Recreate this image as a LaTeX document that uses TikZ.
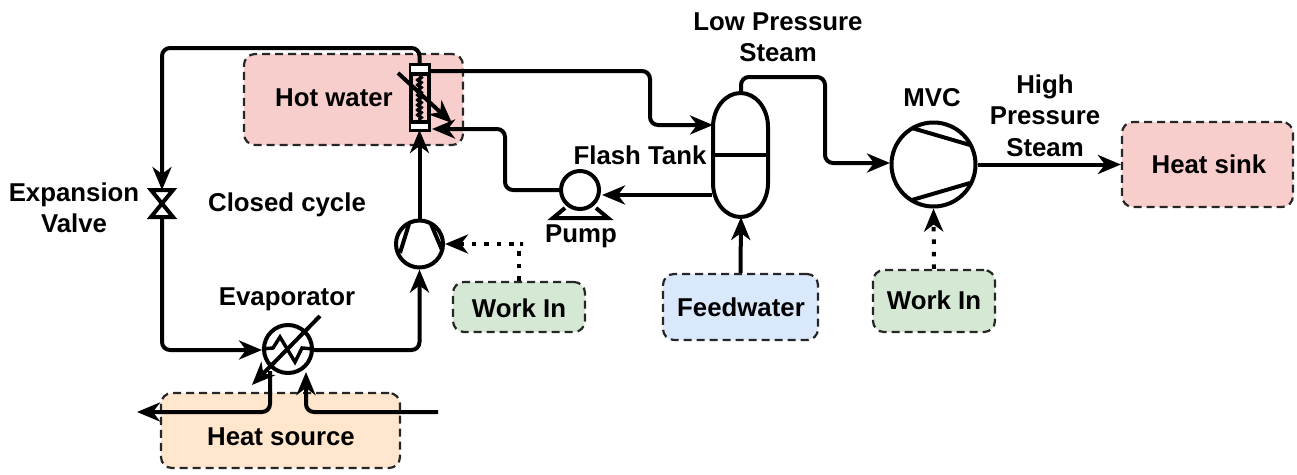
\documentclass[tikz,border=0pt]{standalone}
\usepackage{fontspec}
\setmainfont{Liberation Sans}
\usetikzlibrary{arrows.meta,decorations.pathmorphing}
\definecolor{hotred}{HTML}{F8CECC}
\definecolor{srcorange}{HTML}{FFE6CC}
\definecolor{workgreen}{HTML}{D5E8D4}
\definecolor{feedblue}{HTML}{DAE8FC}
\tikzset{
  x=1pt,y=-1pt,
  >={Stealth[length=23pt,width=19pt,inset=7pt]},
  flow/.style={line width=4pt,rounded corners=8pt,->},
  plainline/.style={line width=4pt,rounded corners=8pt},
  workflow/.style={line width=4pt,->,dash pattern=on 4.5pt off 8pt},
  area/.style={draw=black!85,line width=2.2pt,dash pattern=on 8pt off 5pt,rounded corners=11pt,inner sep=0pt},
  lbl/.style={font=\bfseries\fontsize{25.8}{31.5}\selectfont,align=center,inner sep=0pt},
  unit/.style={circle,draw,line width=4pt,fill=white,outer sep=2pt,inner sep=0pt},
  sym/.style={line width=4pt},
}
\begin{document}
\begin{tikzpicture}
\useasboundingbox (0,0) rectangle (1297,474);
% coloured areas
\node[area,fill=hotred,minimum width=219pt,minimum height=91pt] (hot) at (353.5,99.5) {};
\node[area,fill=srcorange,minimum width=239pt,minimum height=75pt] (source) at (280.5,430.5) {};
\node[area,fill=workgreen,minimum width=132pt,minimum height=50pt] (workA) at (519,307) {};
\node[area,fill=feedblue,minimum width=155pt,minimum height=66pt] (feed) at (740.5,307) {};
\node[area,fill=workgreen,minimum width=122pt,minimum height=62pt] (workB) at (934,301) {};
\node[area,fill=hotred,minimum width=171pt,minimum height=85pt] (sink) at (1207.5,164.5) {};
% equipment
\node[draw,line width=4pt,minimum width=18pt,minimum height=65pt,inner sep=0pt,outer sep=0pt] (hx) at (419.5,97.5) {};
\node[unit,minimum size=48pt] (evap) at (288,349) {};
\node[unit,minimum size=47pt] (comp) at (419.5,244) {};
\node[unit,minimum size=38pt] (pump) at (580,190) {};
\node[unit,minimum size=84pt] (mvc) at (933.5,164.5) {};
\node[minimum width=22pt,minimum height=27pt,inner sep=0pt,outer sep=0pt] (valve) at (162,203.5) {};
\node[minimum width=55pt,minimum height=124pt,inner sep=0pt,outer sep=0pt] (tank) at (741,155) {};
% named connector points
\coordinate (topbend) at (162,48);
\coordinate (lowbend) at (162,350);
\coordinate (evapin) at (262,350);
\coordinate (evapout) at (314,350);
\coordinate (hxout) at (430,71);
\coordinate (hxin) at (432,129);
\coordinate (tankin) at (713,125);
\coordinate (hxbend) at (650,71);
\coordinate (pumpbend) at (505,190);
\coordinate (tankout) at (712,195);
\coordinate (pumpin) at (602,195);
\coordinate (steambend) at (825,77);
\coordinate (mvcin) at (890,163);
\coordinate (workAbend) at (523,244);
\coordinate (srcin) at (438,412);
\coordinate (srcout) at (137,412);
\coordinate (evapleg) at (270,371);
\coordinate (evapfoot) at (306,372);
% connectors
\draw[flow] (hx.north) |- (topbend) -- (valve.north);
\draw[flow] (valve.south) -- (lowbend) -- (evapin);
\draw[flow] (evapout) -| (comp.south);
\draw[flow] (comp.north) -- (hx.south);
\draw[flow] (hxout) -- (hxbend) |- (tankin);
\draw[flow] (pump.west) -- (pumpbend) |- (hxin);
\draw[flow] (tankout) -- (pumpin);
\draw[flow] (tank.north) |- (steambend) |- (mvcin);
\draw[flow] (mvc.east) -- (sink.west);
\draw[flow] (feed.north) -- (tank.south);
\draw[workflow] (workA.north) |- (workAbend) -- (comp.east);
\draw[workflow] (workB.north) -- (mvc.south);
\draw[flow] (srcin) -| (evapfoot);
\draw[flow] (evapleg) |- (srcout);
% heat exchanger details
\fill[white] (411,66) rectangle (428,73);
\fill[white] (411,122) rectangle (428,129);
\draw[line width=3.5pt] (411,74) -- (428,74) (411,122) -- (428,122);
\draw[line width=3pt,decorate,decoration={snake,segment length=5pt,amplitude=2pt}] (419.5,76) -- (419.5,120);
\draw[sym,->] (398,73) -- (452,123);
% evaporator details
\draw[line width=3.5pt,line join=miter] (evap.west) -- (273,348) -- (280,337) -- (295,362) -- (302,348) -- (evap.east);
\draw[sym,->] (320,316) -- (252,385);
% compressors
\draw[sym] (409,224) -- (400,253) (431,224) -- (442,250);
\draw[sym] (912,128) -- (970,145) (912,200) -- (970,183);
% pump base
\draw[sym,line join=miter] (565,208) -- (553,218) -- (608,218) -- (596,208);
% valve
\draw[sym,line join=miter] (valve.north west) -- (valve.north east) -- (valve.south west) -- (valve.south east) -- cycle;
% tank
\draw[sym] (713,127) arc[start angle=180,end angle=0,x radius=27.5pt,y radius=34pt]
  -- (768,183) arc[start angle=0,end angle=-180,x radius=27.5pt,y radius=34pt] -- cycle;
\draw[sym] (713,155) -- (768,155);
% labels
\node[lbl] (tHot) at (334,98) {Hot water};
\node[lbl] (tSource) at (281,437) {Heat source};
\node[lbl] (tWorkA) at (519,308) {Work In};
\node[lbl] (tFeed) at (741,307) {Feedwater};
\node[lbl] (tWorkB) at (934,300) {Work In};
\node[lbl] (tSink) at (1209,164) {Heat sink};
\node[lbl] (tLow) at (778,37) {Low Pressure\\Steam};
\node[lbl] (tMVC) at (932,98) {MVC};
\node[lbl] (tHigh) at (1045,115.5) {High\\Pressure\\Steam};
\node[lbl] (tFlash) at (640,155) {Flash Tank};
\node[lbl] (tPump) at (581,236) {Pump};
\node[lbl] (tClosed) at (287,205) {Closed cycle};
\node[lbl] (tExp) at (74,208) {Expansion\\Valve};
\node[lbl] (tEvap) at (287,299) {Evaporator};
\end{tikzpicture}
\end{document}
